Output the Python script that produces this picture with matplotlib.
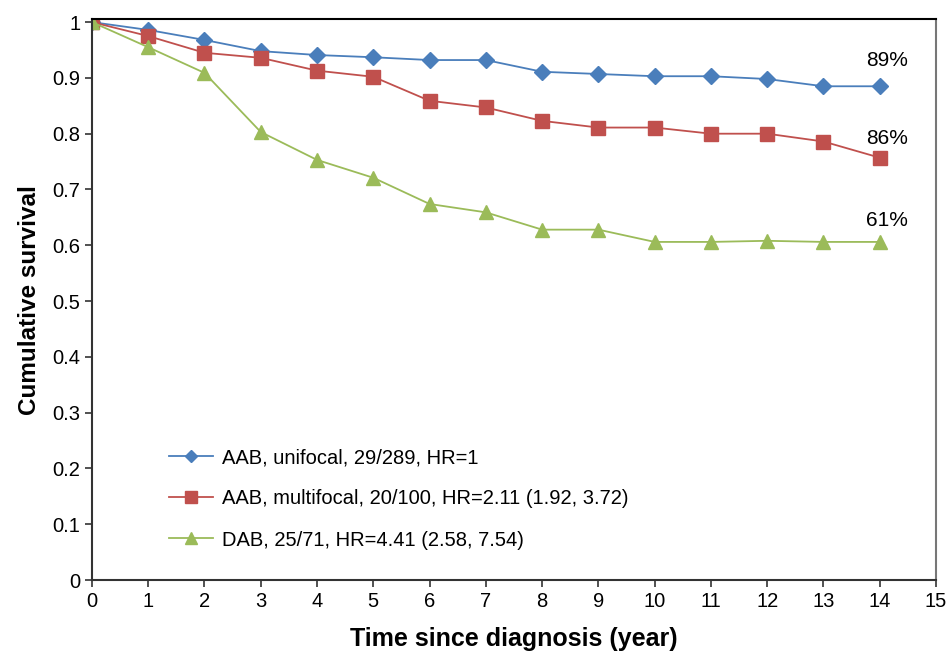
import matplotlib
matplotlib.use("Agg")
import matplotlib.pyplot as plt

years = list(range(15))
unifocal = [1.0, 0.986, 0.968, 0.948, 0.941, 0.937, 0.932, 0.932, 0.911, 0.907, 0.903, 0.903, 0.898, 0.885, 0.885]
multifocal = [1.0, 0.975, 0.945, 0.936, 0.913, 0.902, 0.859, 0.847, 0.823, 0.811, 0.811, 0.800, 0.800, 0.786, 0.757]
dab = [1.0, 0.955, 0.909, 0.803, 0.753, 0.721, 0.674, 0.659, 0.628, 0.628, 0.606, 0.606, 0.608, 0.606, 0.606]

labels = ["AAB, unifocal, 29/289, HR=1",
          "AAB, multifocal, 20/100, HR=2.11 (1.92, 3.72)",
          "DAB, 25/71, HR=4.41 (2.58, 7.54)"]
end_labels = ["89%", "86%", "61%"]
end_label_y = [0.932, 0.792, 0.645]

plt.rcParams['font.family'] = ['Liberation Sans', 'DejaVu Sans']

fig = plt.figure(figsize=(9.51, 6.55), dpi=100)
ax = fig.add_axes([0.0967, 0.1145, 0.8875, 0.856])

ax.plot(years, unifocal, color='#4A7EBB', marker='D', markersize=8, lw=1.3, label=labels[0])
ax.plot(years, multifocal, color='#C0504D', marker='s', markersize=10, lw=1.3, label=labels[1])
ax.plot(years, dab, color='#9BBB59', marker='^', markersize=10, lw=1.3, label=labels[2])

for t, y in zip(end_labels, end_label_y):
    ax.text(14.13, y, t, ha='center', va='center', fontsize=15)

ax.set_xlim(0, 15)
ax.set_ylim(0, 1.005)
ax.set_xticks(range(16))
ax.set_yticks([i / 10 for i in range(11)])
ax.set_yticklabels(['0'] + ['0.%d' % i for i in range(1, 10)] + ['1'])
ax.tick_params(direction='out', length=5, width=1.2, color='#333333', labelsize=14.5)

ax.spines['left'].set_color('#333333')
ax.spines['bottom'].set_color('#333333')
ax.spines['left'].set_linewidth(1.5)
ax.spines['bottom'].set_linewidth(1.5)
ax.spines['top'].set_color('black')
ax.spines['top'].set_linewidth(1.5)
ax.spines['right'].set_color('#777777')
ax.spines['right'].set_linewidth(1.5)

ax.set_ylabel('Cumulative survival', fontsize=17.5, fontweight='bold', labelpad=8)
ax.set_xlabel('Time since diagnosis (year)', fontsize=18, fontweight='bold', labelpad=12)

ax.legend(loc='lower left', bbox_to_anchor=(0.07, 0.022), frameon=False, fontsize=14.5,
          labelspacing=1.1, handlelength=2.2, handletextpad=0.4, markerscale=0.8)

fig.savefig('out.png', dpi=100)
